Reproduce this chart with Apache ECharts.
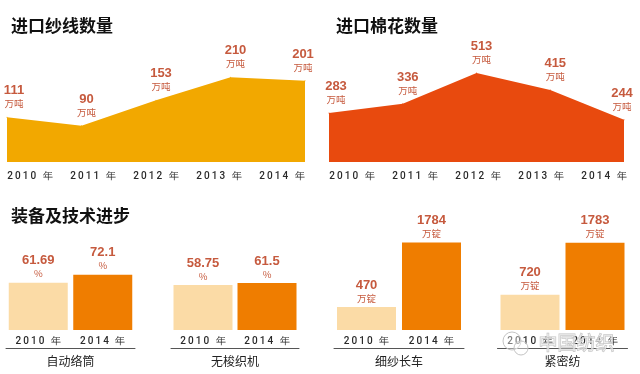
<!DOCTYPE html>
<html>
<head>
<meta charset="utf-8">
<script src="https://cdn.jsdelivr.net/npm/echarts@6/dist/echarts.min.js"></script>
<style>
html,body{margin:0;padding:0;background:#fff;}
#c{width:640px;height:374px;}
</style>
</head>
<body>
<div id="c"></div>
<script>
// ---- data ----
const importYears = ['2010 年', '2011 年', '2012 年', '2013 年', '2014 年'];
const yarnImports = [111, 90, 153, 210, 201];
const cottonImports = [283, 336, 513, 415, 244];
const importUnit = '万吨';
const titles = ['进口纱线数量', '进口棉花数量', '装备及技术进步'];

const equipYears = ['2010 年', '2014 年'];
const equipNames = ['自动络筒', '无梭织机', '细纱长车', '紧密纺'];
const autoWinding = [61.69, 72.1];
const shuttlelessLooms = [58.75, 61.5];
const longSpinningFrames = [470, 1784];
const compactSpinning = [720, 1783];
const equipUnits = ['%', '%', '万锭', '万锭'];
const watermark = '中国纺织';

// ---- styles ----
const NUM_FONT = '"Liberation Sans Narrow","Liberation Sans",Arial,sans-serif';
const CJK = '"Noto Sans CJK SC","Noto Sans",sans-serif';
const LABEL_COLOR = '#c65a3e';
const LIGHT = '#fbdba6';
const DARK = '#ef7d00';

function spaced(s) { return s.split('').join('\u2009'); }

const richLabel = {
  v: { fontFamily: NUM_FONT, fontWeight: 'bold', fontSize: 13, lineHeight: 14, color: LABEL_COLOR },
  u: { fontFamily: CJK, fontSize: 9.5, lineHeight: 12, color: LABEL_COLOR }
};

function areaData(vals) {
  return vals.map((v, i) => ({
    value: v,
    label: { offset: [i === 0 ? 7 : (i === vals.length - 1 ? -2 : 5), 0] }
  }));
}

const grids = [
  { left: 7, width: 298, top: 61, height: 101 },
  { left: 30, width: 252, top: 61, height: 101 },
  { left: 329, width: 295, top: 58, height: 104 },
  { left: 352, width: 252, top: 58, height: 104 },
  { left: 6, width: 129, top: 253.5, height: 76.5 },
  { left: 171, width: 128, top: 253.5, height: 76.5 },
  { left: 334, width: 130, top: 232, height: 98 },
  { left: 497.5, width: 130, top: 232, height: 98 }
];
const yMax = [250, 250, 600, 600, 100, 100, 2000, 2000];

const hidden = { axisLine: { show: false }, axisTick: { show: false }, axisLabel: { show: false }, splitLine: { show: false } };

const xAxes = [];
[0, 2].forEach(g => xAxes.push(Object.assign({ type: 'category', gridIndex: g, boundaryGap: false, data: importYears }, hidden)));
[1, 3].forEach(g => xAxes.push({
  type: 'category', gridIndex: g, boundaryGap: false, data: importYears,
  axisLine: { show: false }, axisTick: { show: false }, splitLine: { show: false },
  axisLabel: { margin: 9, fontSize: 10, color: '#2a2a2a', fontFamily: 'Roboto,sans-serif', fontWeight: 500, formatter: spaced }
}));
[4, 5, 6, 7].forEach(g => xAxes.push({
  type: 'category', gridIndex: g, data: equipYears,
  axisLine: { show: false }, axisTick: { show: false }, splitLine: { show: false },
  axisLabel: { margin: 6, fontSize: 10, color: '#2a2a2a', fontFamily: 'Roboto,sans-serif', fontWeight: 500, formatter: spaced }
}));
[4, 5, 6, 7].forEach((g, i) => xAxes.push({
  type: 'category', gridIndex: g, data: equipYears, position: 'bottom', offset: 18,
  axisLine: { show: true, lineStyle: { color: '#555', width: 1 } },
  axisTick: { show: false }, axisLabel: { show: false }, splitLine: { show: false },
  name: equipNames[i], nameLocation: 'middle', nameGap: 7,
  nameTextStyle: { fontFamily: CJK, fontSize: 12, color: '#222' }
}));

const yAxes = grids.map((g, i) => ({ type: 'value', gridIndex: i, min: 0, max: yMax[i], show: false }));

const areaSeries = (vals, xi, yi, color) => ({
  type: 'line', xAxisIndex: xi, yAxisIndex: yi, data: areaData(vals),
  symbol: 'circle', symbolSize: 1, itemStyle: { color: color },
  lineStyle: { width: 0 }, areaStyle: { color: color, opacity: 1 },
  label: {
    show: true, position: 'top', distance: 7,
    formatter: p => '{v|' + p.value + '}\n{u|' + importUnit + '}', rich: richLabel
  },
  silent: true
});

const barSets = [autoWinding, shuttlelessLooms, longSpinningFrames, compactSpinning];
const barSeries = barSets.map((vals, i) => ({
  type: 'bar', xAxisIndex: 4 + i, yAxisIndex: 4 + i, barWidth: 59,
  data: vals.map((v, j) => ({ value: v, itemStyle: { color: j === 0 ? LIGHT : DARK } })),
  label: {
    show: true, position: 'top', distance: 3,
    formatter: p => '{v|' + p.value + '}\n{u|' + equipUnits[i] + '}', rich: richLabel
  },
  silent: true
}));

const option = {
  animation: false,
  backgroundColor: '#fff',
  title: [
    { text: titles[0], left: 6, top: 12, textStyle: { fontFamily: CJK, fontSize: 17, fontWeight: 'bold', color: '#111' } },
    { text: titles[1], left: 331, top: 12, textStyle: { fontFamily: CJK, fontSize: 17, fontWeight: 'bold', color: '#111' } },
    { text: titles[2], left: 6, top: 202, textStyle: { fontFamily: CJK, fontSize: 17, fontWeight: 'bold', color: '#111' } }
  ],
  grid: grids,
  xAxis: xAxes,
  yAxis: yAxes,
  series: [
    areaSeries(yarnImports, 0, 0, '#f2a800'),
    areaSeries(cottonImports, 1, 2, '#e84a0e')
  ].concat(barSeries),
  graphic: [
    { type: 'circle', shape: { cx: 512, cy: 341, r: 9 }, style: { fill: 'rgba(255,255,255,0.4)', stroke: '#c4c4c4', lineWidth: 1 }, z: 100 },
    { type: 'circle', shape: { cx: 521, cy: 348, r: 7 }, style: { fill: 'rgba(255,255,255,0.4)', stroke: '#c4c4c4', lineWidth: 1 }, z: 100 },
    { type: 'text', left: 538, top: 333, z: 100, style: { text: watermark, font: '19px "Noto Sans CJK SC",sans-serif', fill: 'rgba(255,255,255,0.45)', stroke: '#c2c2c2', lineWidth: 1 } }
  ]
};

const chart = echarts.init(document.getElementById('c'), null, { renderer: 'canvas' });
chart.setOption(option);
</script>
</body>
</html>
